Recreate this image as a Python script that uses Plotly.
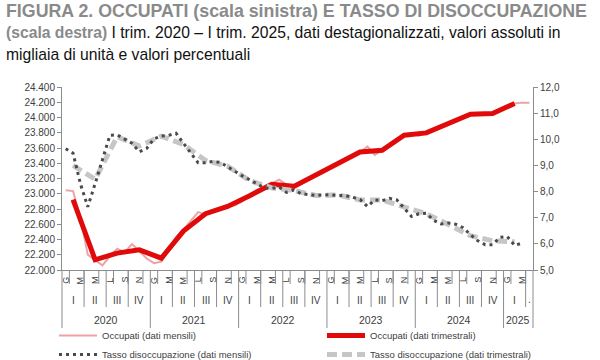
import plotly.graph_objects as go

# ---------------- data ----------------
years = ["2020", "2021", "2022", "2023", "2024", "2025"]
month_letters = ["G", "F", "M", "A", "M", "G", "L", "A", "S", "O", "N", "D"]
quarter_labels = ["I", "II", "III", "IV"]
n_months = 64  # gennaio 2020 - aprile 2025

# Occupati, dati mensili (migliaia)
occ_monthly = [23045, 23035, 22690, 22200, 22130, 22060, 22180, 22280, 22230, 22340,
               22250, 22150, 22090, 22110, 22260, 22430, 22530, 22650, 22760, 22730,
               22770, 22800, 22830, 22850, 22900, 22990, 23030, 23080, 23130, 23185,
               23120, 23090, 23130, 23190, 23250, 23300, 23350, 23400, 23440, 23500,
               23540, 23620, 23510, 23570, 23640, 23720, 23770, 23790, 23760, 23800,
               23840, 23900, 23920, 23960, 24000, 24040, 24050, 24050, 24050, 24100,
               24150, 24185, 24195, 24195]

# Occupati, dati trimestrali (migliaia), I trim. 2020 - I trim. 2025
occ_quarterly = [22922, 22134, 22221, 22265, 22155, 22510, 22738, 22834, 22975, 23124,
                 23097, 23251, 23403, 23548, 23570, 23767, 23798, 23921, 24043, 24052,
                 24184]

# Tasso di disoccupazione, dati mensili (%)
rate_monthly = [9.64, 9.47, 8.30, 7.42, 8.30, 9.20, 10.15, 10.17, 10.00, 9.85,
                9.52, 9.65, 10.02, 10.12, 10.15, 10.23, 9.85, 9.45, 9.10, 9.10,
                9.15, 9.12, 8.95, 8.75, 8.60, 8.45, 8.30, 8.14, 8.12, 8.17,
                7.97, 8.06, 7.92, 7.88, 7.85, 7.87, 7.88, 7.85, 7.85, 7.78,
                7.70, 7.43, 7.68, 7.65, 7.74, 7.68, 7.35, 7.05, 7.15, 7.17,
                6.90, 6.76, 6.80, 6.75, 6.62, 6.35, 6.12, 5.97, 5.97, 6.25,
                6.28, 5.94, 6.03]

# Tasso di disoccupazione, dati trimestrali (%)
rate_quarterly = [9.00, 8.47, 10.10, 9.74, 10.12, 9.80, 9.19, 8.97, 8.42, 8.14,
                  8.04, 7.85, 7.87, 7.68, 7.68, 7.40, 7.15, 6.74, 6.31, 6.12,
                  6.08]

# positions on the category (month) axis
x_month = list(range(len(occ_monthly)))
x_rate_m = list(range(len(rate_monthly)))
x_quarter = [3 * q + 1 for q in range(len(occ_quarterly))]

FONT = "Liberation Sans, Arial, sans-serif"
AXIS_COL = "#8c8c8c"
TXT_COL = "#404040"

fig = go.Figure()

fig.add_trace(go.Scatter(
    x=x_month, y=occ_monthly, name="Occupati (dati mensili)", mode="lines",
    line=dict(color="#eba3a3", width=2), yaxis="y", legendrank=1))
fig.add_trace(go.Scatter(
    x=x_quarter, y=occ_quarterly, name="Occupati (dati trimestrali)", mode="lines",
    line=dict(color="#e10a0a", width=5), yaxis="y", legendrank=2))
fig.add_trace(go.Scatter(
    x=x_quarter, y=rate_quarterly, name="Tasso disoccupazione (dati trimestrali)",
    mode="lines", line=dict(color="#c6c6c6", width=5, dash="10px,5px"),
    yaxis="y2", legendrank=4))
fig.add_trace(go.Scatter(
    x=x_rate_m, y=rate_monthly, name="Tasso disoccupazione (dati mensili)",
    mode="lines", line=dict(color="#4a4a4a", width=3, dash="3px,4px"),
    yaxis="y2", legendrank=3))

# ---------------- multi-level category axis (month / quarter / year) ----------------
shapes = []
annotations = []
PLOT_H = 183.0
PLOT_W = 471.0
line_style = dict(color=AXIS_COL, width=1)

# month-level separators
for k in range(0, n_months - 1, 2):
    shapes.append(dict(type="line", xref="x", yref="paper", x0=k + 0.5, x1=k + 0.5,
                       y0=0, y1=-14 / PLOT_H, line=line_style))
# quarter-level separators
for q in range(1, 22):
    xb = 3 * q - 0.5
    if q % 4 == 0:
        continue
    shapes.append(dict(type="line", xref="x", yref="paper", x0=xb, x1=xb,
                       y0=0, y1=-37 / PLOT_H, line=line_style))
# year-level separators
for k in range(1, 6):
    xb = 12 * k - 0.5
    shapes.append(dict(type="line", xref="x", yref="paper", x0=xb, x1=xb,
                       y0=0, y1=-58 / PLOT_H, line=line_style))
for xp in (0, 1):
    shapes.append(dict(type="line", xref="paper", yref="paper", x0=xp, x1=xp,
                       y0=0, y1=-58 / PLOT_H, line=line_style))

# month letters
for m in range(0, n_months, 2):
    annotations.append(dict(x=m, y=0, xref="x", yref="paper", text=month_letters[m % 12],
                            showarrow=False, textangle=-90, yanchor="middle",
                            xanchor="center", yshift=-10,
                            font=dict(size=9, color=TXT_COL, family=FONT)))
# quarter labels
for q in range(len(occ_quarterly)):
    annotations.append(dict(x=3 * q + 1, y=0, xref="x", yref="paper",
                            text=quarter_labels[q % 4], showarrow=False,
                            yanchor="middle", yshift=-30,
                            font=dict(size=10, color=TXT_COL, family=FONT)))
annotations.append(dict(x=n_months - 1, y=0, xref="x", yref="paper", text=".",
                        showarrow=False, yanchor="middle", yshift=-29,
                        font=dict(size=10, color=TXT_COL, family=FONT)))
# year labels
for i, yr in enumerate(years):
    start = 12 * i
    end = min(12 * i + 11, n_months - 1)
    annotations.append(dict(x=(start + end) / 2, y=0, xref="x", yref="paper", text=yr,
                            showarrow=False, yanchor="middle", yshift=-50,
                            font=dict(size=10.5, color=TXT_COL, family=FONT)))

# ---------------- title (three lines) ----------------
GRAY_T = "#8a8a8a"
title_lines = [
    ("<b>FIGURA 2. OCCUPATI (scala sinistra) E TASSO DI DISOCCUPAZIONE</b>", 17.8, 10.5),
    ("<b>(scala destra)</b> <span style='color:#111111'>I trim. 2020 \u2013 I trim. 2025, "
     "dati destagionalizzati, valori assoluti in</span>", 15.7, 32.5),
    ("<span style='color:#111111'>migliaia di unit\u00e0 e valori percentuali</span>",
     15.7, 54),
]
for txt, size, cy in title_lines:
    annotations.append(dict(x=(4 - 62) / PLOT_W, y=(270 - cy) / PLOT_H, xref="paper",
                            yref="paper", xanchor="left", yanchor="middle",
                            text=txt, showarrow=False, align="left",
                            font=dict(size=size, color=GRAY_T, family=FONT)))

fig.update_layout(
    width=600, height=360,
    margin=dict(l=62, r=67, t=87, b=90, autoexpand=False),
    paper_bgcolor="white", plot_bgcolor="white",
    separators=",.",
    font=dict(family=FONT, color=TXT_COL),
    showlegend=True,
    xaxis=dict(range=[-0.5, n_months - 0.5], showgrid=False, zeroline=False,
               showticklabels=False, ticks="", showline=True, linecolor=AXIS_COL,
               linewidth=1, fixedrange=True),
    yaxis=dict(range=[22000, 24400], dtick=200, tickformat=",d", showgrid=False,
               zeroline=False, showline=True, linecolor=AXIS_COL, linewidth=1,
               ticks="outside", ticklen=4, tickcolor=AXIS_COL,
               tickfont=dict(size=10, color=TXT_COL, family=FONT)),
    yaxis2=dict(range=[5, 12], dtick=1, tickformat=".1f", overlaying="y", side="right",
                showgrid=False, zeroline=False, showline=True, linecolor=AXIS_COL,
                linewidth=1, ticks="outside", ticklen=4, tickcolor=AXIS_COL,
                tickfont=dict(size=10, color=TXT_COL, family=FONT)),
    legend=dict(orientation="h", x=-0.017, xanchor="left", y=-0.2787, yanchor="top",
                itemwidth=38, entrywidth=215,
                font=dict(size=9.5, color=TXT_COL, family=FONT),
                bgcolor="rgba(0,0,0,0)", itemclick=False, traceorder="normal"),
    shapes=shapes, annotations=annotations,
)

fig.write_html("out.html",
               config={"displayModeBar": False},
               post_script="document.body.style.margin='0';document.body.style.overflow='hidden';")
